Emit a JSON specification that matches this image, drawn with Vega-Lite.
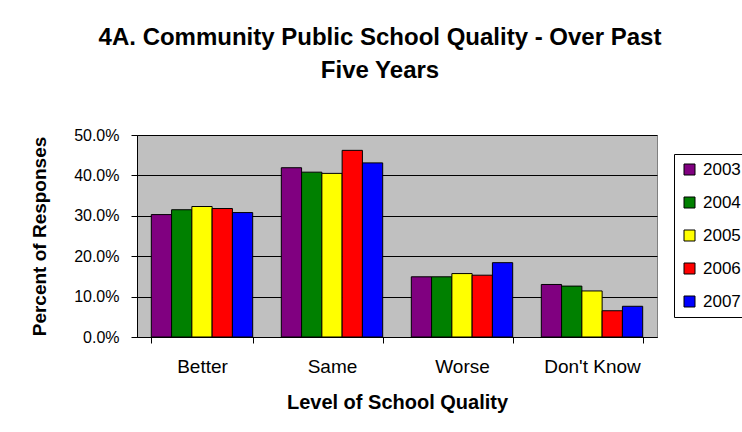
{
  "$schema": "https://vega.github.io/schema/vega-lite/v6.json",
  "width": 520,
  "height": 202,
  "autosize": {"type": "none"},
  "padding": {"left": 137, "top": 135, "right": 85, "bottom": 95},
  "background": "white",
  "title": {
    "text": ["4A. Community Public School Quality - Over Past", "Five Years"],
    "font": "Liberation Sans",
    "fontSize": 24,
    "fontWeight": "bold",
    "color": "black",
    "lineHeight": 33,
    "anchor": "middle",
    "dx": -17,
    "offset": 44
  },
  "data": {
    "values": [
      {"level": "Better", "year": "2003", "pct": 0.303},
      {"level": "Better", "year": "2004", "pct": 0.315},
      {"level": "Better", "year": "2005", "pct": 0.323},
      {"level": "Better", "year": "2006", "pct": 0.318},
      {"level": "Better", "year": "2007", "pct": 0.308},
      {"level": "Same", "year": "2003", "pct": 0.419},
      {"level": "Same", "year": "2004", "pct": 0.408},
      {"level": "Same", "year": "2005", "pct": 0.405},
      {"level": "Same", "year": "2006", "pct": 0.462},
      {"level": "Same", "year": "2007", "pct": 0.431},
      {"level": "Worse", "year": "2003", "pct": 0.149},
      {"level": "Worse", "year": "2004", "pct": 0.149},
      {"level": "Worse", "year": "2005", "pct": 0.157},
      {"level": "Worse", "year": "2006", "pct": 0.153},
      {"level": "Worse", "year": "2007", "pct": 0.184},
      {"level": "Don't Know", "year": "2003", "pct": 0.130},
      {"level": "Don't Know", "year": "2004", "pct": 0.126},
      {"level": "Don't Know", "year": "2005", "pct": 0.114},
      {"level": "Don't Know", "year": "2006", "pct": 0.065},
      {"level": "Don't Know", "year": "2007", "pct": 0.076}
    ]
  },
  "mark": {"type": "bar", "stroke": "black", "strokeWidth": 1},
  "encoding": {
    "x": {
      "field": "level",
      "type": "nominal",
      "sort": ["Better", "Same", "Worse", "Don't Know"],
      "scale": {"paddingInner": 0.22, "paddingOuter": 0.11},
      "axis": {
        "title": "Level of School Quality",
        "titleFont": "Liberation Sans",
        "titleFontSize": 20,
        "titleFontWeight": "bold",
        "titleColor": "black",
        "titleBaseline": "alphabetic",
        "titleY": 71,
        "labelAngle": 0,
        "labelFont": "Liberation Sans",
        "labelFontSize": 19,
        "labelColor": "black",
        "labelPadding": 14,
        "labelBaseline": "top",
        "tickBand": "extent",
        "tickSize": 6,
        "tickColor": "black",
        "domainColor": "black",
        "grid": false
      }
    },
    "xOffset": {
      "field": "year",
      "type": "nominal",
      "scale": {"paddingInner": 0, "paddingOuter": 0}
    },
    "y": {
      "field": "pct",
      "type": "quantitative",
      "scale": {"domain": [0, 0.5]},
      "axis": {
        "title": "Percent of Responses",
        "titleFont": "Liberation Sans",
        "titleFontSize": 19,
        "titleFontWeight": "bold",
        "titleColor": "black",
        "titleAngle": -90,
        "titleBaseline": "middle",
        "titleAlign": "center",
        "titleX": -98,
        "titleY": 101,
        "format": ".1%",
        "values": [0, 0.1, 0.2, 0.3, 0.4, 0.5],
        "labelFont": "Liberation Sans",
        "labelFontSize": 16,
        "labelColor": "black",
        "labelPadding": 12,
        "tickSize": 6,
        "tickColor": "black",
        "domainColor": "black",
        "grid": true,
        "gridColor": "black",
        "gridWidth": 1
      }
    },
    "color": {
      "field": "year",
      "type": "nominal",
      "scale": {
        "domain": ["2003", "2004", "2005", "2006", "2007"],
        "range": ["#800080", "#008000", "#FFFF00", "#FF0000", "#0000FF"]
      },
      "legend": {
        "title": null,
        "orient": "none",
        "legendX": 537,
        "legendY": 19,
        "strokeColor": "black",
        "fillColor": "white",
        "padding": 7,
        "symbolType": "square",
        "symbolSize": 121,
        "symbolStrokeColor": "black",
        "symbolStrokeWidth": 1,
        "labelFont": "Liberation Sans",
        "labelFontSize": 17,
        "labelColor": "black",
        "labelOffset": 5,
        "rowPadding": 15
      }
    }
  },
  "config": {
    "view": {"fill": "#C0C0C0", "stroke": "#808080", "strokeWidth": 1}
  }
}
